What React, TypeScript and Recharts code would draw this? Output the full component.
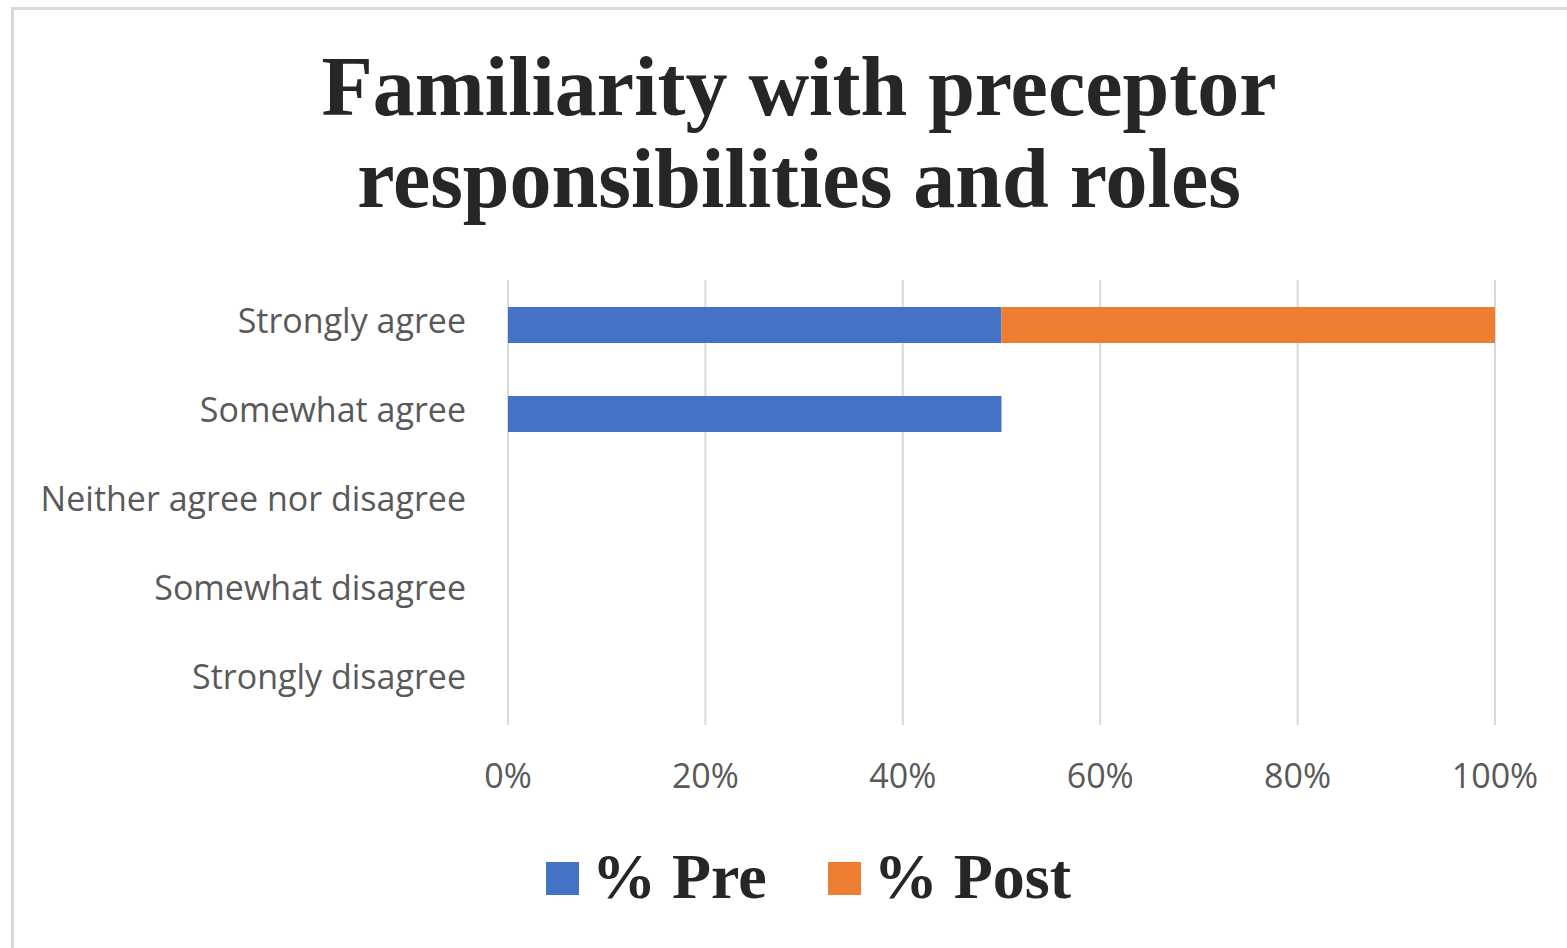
import { BarChart, Bar, XAxis, YAxis, CartesianGrid } from 'recharts';

const categories = ['Strongly agree', 'Somewhat agree', 'Neither agree nor disagree', 'Somewhat disagree', 'Strongly disagree'];
const preValues = [50, 50, 0, 0, 0];
const postValues = [50, 0, 0, 0, 0];
const xTicks = [0, 20, 40, 60, 80, 100];

const series = [
  { key: 'pre', name: '% Pre', color: '#4472C4' },
  { key: 'post', name: '% Post', color: '#ED7D31' },
];

const data = categories.map((c, i) => ({ category: c, pre: preValues[i], post: postValues[i] }));

const serif = '"Liberation Serif", "Times New Roman", serif';
const sans = '"Open Sans", "Noto Sans", sans-serif';

const App = () => {
  return (
    <div style={{ position: 'fixed', inset: 0, background: '#fff', overflow: 'hidden' }}>
      <div
        style={{
          position: 'absolute',
          left: 11,
          top: 7,
          right: -10,
          bottom: -10,
          borderTop: '3px solid #d9d9d9',
          borderLeft: '3px solid #d9d9d9',
        }}
      />
      <div
        style={{
          position: 'absolute',
          left: 0,
          top: 41,
          width: 1598,
          textAlign: 'center',
          fontFamily: serif,
          fontWeight: 700,
          fontSize: 84,
          lineHeight: '92px',
          color: '#262626',
        }}
      >
        Familiarity with preceptor
        <br />
        responsibilities and roles
      </div>
      <div style={{ position: 'absolute', left: 0, top: 0 }}>
        <BarChart
          width={1567}
          height={948}
          data={data}
          layout="vertical"
          margin={{ top: 280, right: 72, left: 0, bottom: 163 }}
        >
          <CartesianGrid horizontal={false} stroke="#d9d9d9" strokeWidth={2} />
          <XAxis
            type="number"
            domain={[0, 100]}
            ticks={xTicks}
            tickFormatter={(v) => `${v}%`}
            axisLine={false}
            tickLine={false}
            tickSize={0}
            tickMargin={39}
            height={60}
            tick={{ fill: '#595959', fontSize: 34, fontFamily: sans }}
          />
          <YAxis
            type="category"
            dataKey="category"
            width={508}
            axisLine={false}
            tickLine={false}
            tickSize={0}
            tickMargin={42}
            interval={0}
            tick={{ fill: '#595959', fontSize: 34, fontFamily: sans, dy: -4 }}
          />
          {series.map((s) => (
            <Bar key={s.key} dataKey={s.key} name={s.name} stackId="a" fill={s.color} barSize={36} isAnimationActive={false} />
          ))}
        </BarChart>
      </div>
      <div
        style={{
          position: 'absolute',
          left: 546,
          top: 845,
          display: 'flex',
          alignItems: 'flex-start',
          fontFamily: serif,
          fontWeight: 700,
          fontSize: 64,
          lineHeight: '64px',
          color: '#262626',
          whiteSpace: 'nowrap',
        }}
      >
        {series.map((s, i) => (
          <div key={s.key} style={{ display: 'flex', alignItems: 'flex-start', marginLeft: i === 0 ? 0 : 61 }}>
            <span style={{ width: 33, height: 33, marginTop: 17, marginRight: 13, background: s.color, display: 'inline-block' }} />
            <span>{s.name}</span>
          </div>
        ))}
      </div>
    </div>
  );
};

export default App;
